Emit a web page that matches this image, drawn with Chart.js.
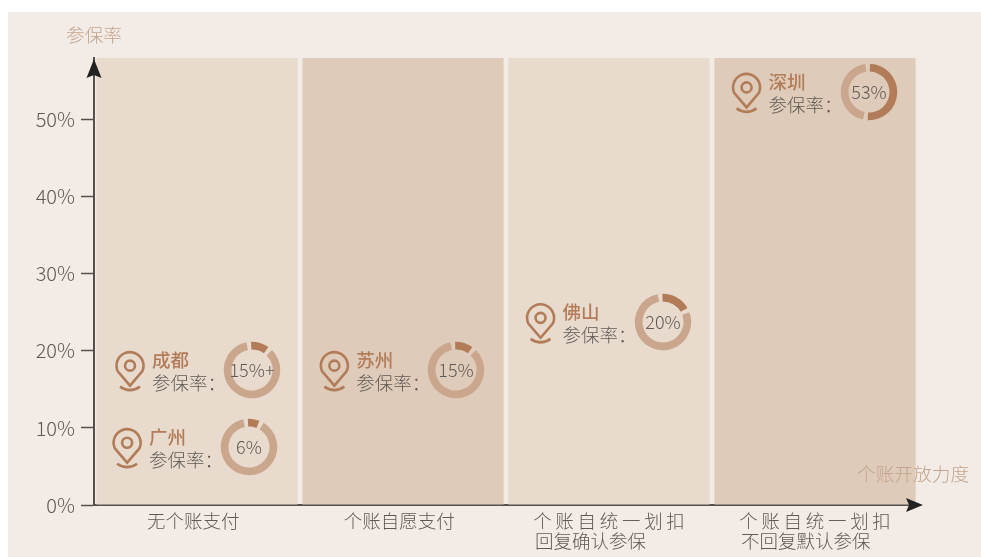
<!DOCTYPE html>
<html>

<head>
    <meta charset="utf-8">
    <script src="https://cdn.jsdelivr.net/npm/chart.js"></script>
    <style>
        html, body { margin: 0; padding: 0; background: #fff; overflow: hidden; }
        #panel { position: absolute; left: 8px; top: 12px; width: 973px; height: 545px; background: #f3ebe5; }
        #main { position: absolute; left: 0; top: 0; }
        .ring { position: absolute; }
    </style>
</head>

<body>
    <div id="panel"></div>
    <canvas id="main" width="981" height="557"></canvas>
    <script>
        // 데이터
        const categories = [
            '无个账支付\u2009\u2009',
            '个账自愿支付\u2009\u2009',
            ['个\u2009账\u2009自\u2009统\u2009一\u2009划\u2009扣', '回复确认参保\u3000\u3000'],
            ['个\u2009账\u2009自\u2009统\u2009一\u2009划\u2009扣', '不回复默认参保\u3000']
        ];
        const yTicks = [0, 10, 20, 30, 40, 50];
        const yMax = 58;
        const bandTop = [58, 58, 58, 58];
        const bandColors = ['#e8dbce', '#dfcbb9', '#e8dbce', '#dfcbb9'];

        const cities = ['成都', '广州', '苏州', '佛山', '深圳'];
        const rateLabels = ['15%+', '6%', '15%', '20%', '53%'];
        // 마커 위치 (x: 카테고리 단위, y: 참보율 축)
        const markerX = [0.267, 0.253, 1.259, 2.26, 3.26];
        const markerY = [17.5, 7.5, 17.5, 23.7, 53.6];
        // 그림에서 읽은 진한 호의 비율
        const arcShare = [11, 7, 11, 18, 53];

        const fontName = '"Noto Sans CJK SC", "Noto Sans", sans-serif';
        const dark = '#b27c58';
        const light = '#c9a68c';
        const grey = '#5f5a56';
        const axisColor = '#55504d';

        function drawPin(ctx, x, y) {
            // 핀 머리 중심 기준
            ctx.save();
            ctx.strokeStyle = dark;
            ctx.lineWidth = 2.6;
            ctx.beginPath();
            ctx.arc(x, y, 13.5, Math.PI * 0.86, Math.PI * 0.14);
            ctx.lineTo(x, y + 20);
            ctx.closePath();
            ctx.stroke();
            ctx.beginPath();
            ctx.arc(x, y, 5, 0, Math.PI * 2);
            ctx.stroke();
            ctx.beginPath();
            ctx.moveTo(x - 10, y + 21);
            ctx.quadraticCurveTo(x, y + 28, x + 10, y + 21);
            ctx.stroke();
            ctx.restore();
        }

        const overlay = {
            id: 'overlay',
            afterDraw(chart) {
                const { ctx, scales: { x, y } } = chart;
                ctx.save();

                // 축 화살표
                ctx.strokeStyle = axisColor;
                ctx.lineWidth = 2;
                ctx.beginPath();
                ctx.moveTo(chart.chartArea.right - 2, y.getPixelForValue(0));
                ctx.lineTo(910, y.getPixelForValue(0));
                ctx.stroke();
                ctx.fillStyle = '#222';
                ctx.beginPath();
                ctx.moveTo(94, 59);
                ctx.lineTo(101.5, 78);
                ctx.lineTo(94, 75);
                ctx.lineTo(86.5, 78);
                ctx.closePath();
                ctx.fill();
                ctx.beginPath();
                ctx.moveTo(923, 505);
                ctx.lineTo(906, 498);
                ctx.lineTo(909, 505);
                ctx.lineTo(906, 512);
                ctx.closePath();
                ctx.fill();

                // 축 제목
                ctx.font = '300 18.7px ' + fontName;
                ctx.fillStyle = '#c4a48c';
                ctx.textAlign = 'center';
                ctx.textBaseline = 'middle';
                ctx.fillText('参保率', 94, 35);
                ctx.fillText('个账开放力度', 913, 474);

                // 도시 라벨
                cities.forEach((city, i) => {
                    const cx = x.getPixelForValue(markerX[i]);
                    const cy = y.getPixelForValue(markerY[i]);
                    drawPin(ctx, cx - 122, cy - 4.5);
                    ctx.textAlign = 'left';
                    ctx.font = '500 18.5px ' + fontName;
                    ctx.fillStyle = dark;
                    ctx.fillText(city, cx - 100, cy - 10);
                    ctx.font = '300 18.5px ' + fontName;
                    ctx.fillStyle = grey;
                    ctx.fillText('参保率：', cx - 100, cy + 13);
                });
                ctx.restore();
            }
        };

        const mainChart = new Chart(document.getElementById('main'), {
            type: 'bar',
            data: {
                labels: categories,
                datasets: [{
                    data: bandTop,
                    backgroundColor: bandColors,
                    borderWidth: 0,
                    barPercentage: 0.977,
                    categoryPercentage: 1
                }]
            },
            options: {
                responsive: false,
                animation: false,
                layout: { padding: { top: 58, right: 63, left: 0, bottom: 0 } },
                plugins: { legend: { display: false }, tooltip: { enabled: false } },
                scales: {
                    x: {
                        afterFit: scale => { scale.height = 52; },
                        grid: { display: false, drawTicks: false },
                        border: { color: axisColor, width: 2 },
                        ticks: {
                            color: grey,
                            padding: 6,
                            maxRotation: 0,
                            autoSkip: false,
                            font: { family: fontName, size: 18.5, weight: 300, lineHeight: 1.08 }
                        }
                    },
                    y: {
                        min: 0,
                        max: yMax,
                        afterFit: scale => { scale.width = 94; },
                        afterBuildTicks: scale => { scale.ticks = yTicks.map(v => ({ value: v })); },
                        grid: { drawOnChartArea: false, tickLength: 13, tickColor: axisColor, tickWidth: 1.5 },
                        border: { color: axisColor, width: 2 },
                        ticks: {
                            color: grey,
                            padding: 6,
                            font: { family: fontName, size: 20, weight: 300 },
                            callback: v => v + '%'
                        }
                    }
                }
            },
            plugins: [overlay]
        });

        // 도넛은 메인 차트 스케일 위치에 겹쳐 올린다
        const ringText = {
            id: 'ringText',
            afterDraw(chart) {
                const { ctx, width, height } = chart;
                ctx.save();
                ctx.font = '300 18px ' + fontName;
                ctx.fillStyle = grey;
                ctx.textAlign = 'center';
                ctx.textBaseline = 'middle';
                ctx.fillText(chart.options.plugins.ringText.label, width / 2, height / 2);
                ctx.restore();
            }
        };

        cities.forEach((city, i) => {
            const size = 60;
            const c = document.createElement('canvas');
            c.className = 'ring';
            c.width = size;
            c.height = size;
            c.style.left = (mainChart.scales.x.getPixelForValue(markerX[i]) - size / 2) + 'px';
            c.style.top = (mainChart.scales.y.getPixelForValue(markerY[i]) - size / 2) + 'px';
            document.body.appendChild(c);
            new Chart(c, {
                type: 'doughnut',
                data: {
                    labels: [city, ''],
                    datasets: [{
                        data: [arcShare[i], 100 - arcShare[i]],
                        backgroundColor: [dark, light],
                        borderWidth: 0,
                        spacing: 2.5
                    }]
                },
                options: {
                    responsive: false,
                    animation: false,
                    rotation: -3,
                    cutout: 20.5,
                    radius: 27,
                    plugins: {
                        legend: { display: false },
                        tooltip: { enabled: false },
                        ringText: { label: rateLabels[i] }
                    }
                },
                plugins: [ringText]
            });
        });
    </script>
</body>

</html>
